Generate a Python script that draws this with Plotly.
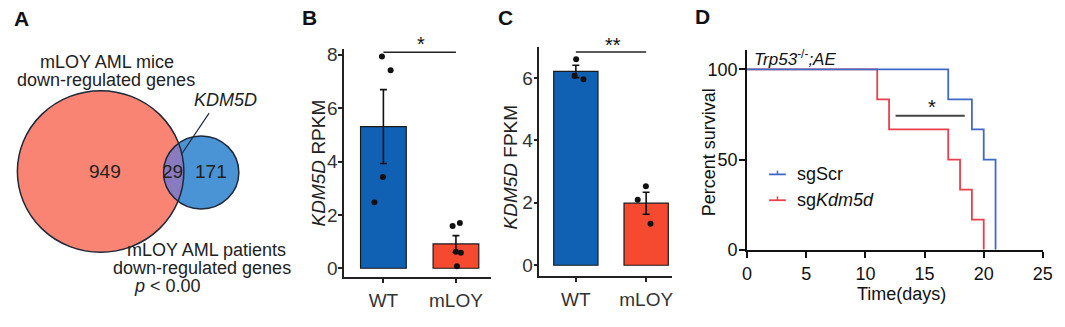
import numpy as np
import plotly.graph_objects as go

W, H = 1065, 327
FONT = "Liberation Sans, Arial, sans-serif"

# ---- Panel A: overlap of down-regulated genes ----
venn_mice_only = 949
venn_shared = 29
venn_patients_only = 171
venn_gene = "KDM5D"

# ---- Panels B/C: KDM5D expression per sample ----
groups = ["WT", "mLOY"]
rpkm_wt = [7.94, 7.42, 3.42, 2.47]
rpkm_mloy = [1.70, 1.58, 0.62, 0.58, 0.08]
fpkm_wt = [6.60, 6.07, 5.96]
fpkm_mloy = [2.10, 2.53, 1.33]

# ---- Panel D: day of death for each mouse ----
death_sgscr = [17, 19, 20, 21, 21, 21]
death_sgkdm5d = [11, 12, 17, 18, 19, 20]
survival_ticks = [0, 5, 10, 15, 20, 25]

# horizontal dot spread within each bar (category units)
jit_rpkm = [[-0.02, 0.10, -0.007, -0.124], [0.054, -0.046, 0.0, 0.068, 0.014]]
jit_fpkm = [[0.004, -0.018, 0.108], [-0.12, -0.004, 0.062]]

BAR_BLUE = "#1061b4"
BAR_RED = "#f54a30"


def px(x):
    return x / W


def py(y):
    return 1 - y / H


fig = go.Figure()
shapes = []
ann = []


def text(x, y, s, size=18, color="#222", xanchor="center", yanchor="middle",
         angle=0, bold=False):
    ann.append(dict(x=px(x), y=py(y), xref="paper", yref="paper",
                    text=f"<b>{s}</b>" if bold else s,
                    showarrow=False, xanchor=xanchor, yanchor=yanchor, textangle=angle,
                    font=dict(family=FONT, size=size, color=color)))


# ================= Panel A (pixel-space axes) =================
k = 2.70  # radius per sqrt(gene count)
r1 = k * np.sqrt(venn_mice_only + venn_shared)
r2 = k * np.sqrt(venn_patients_only + venn_shared)
c1 = np.array([97.0, 175.0])
c2 = np.array([199.0, 176.0])

RED_V, BLUE_V, LENS_V, EDGE = "#f98474", "#4a93d4", "#8a7bbe", "#1d2838"
for c, r, col in [(c1, r1, RED_V), (c2, r2, BLUE_V)]:
    shapes.append(dict(type="circle", xref="x", yref="y", x0=c[0] - r, x1=c[0] + r,
                       y0=c[1] - r, y1=c[1] + r, fillcolor=col, line=dict(width=0),
                       layer="below"))

# lens of the intersection
d_vec = c2 - c1
d = np.hypot(*d_vec)
u = d_vec / d
th0 = np.arctan2(u[1], u[0])
a = (d ** 2 + r1 ** 2 - r2 ** 2) / (2 * d)
h = np.sqrt(r1 ** 2 - a ** 2)
al1 = np.arctan2(h, a)
al2 = np.arctan2(h, d - a)
t1 = np.linspace(th0 - al1, th0 + al1, 60)
t2 = np.linspace(th0 + np.pi - al2, th0 + np.pi + al2, 60)
lx = np.concatenate([c1[0] + r1 * np.cos(t1), c2[0] + r2 * np.cos(t2)])
ly = np.concatenate([c1[1] + r1 * np.sin(t1), c2[1] + r2 * np.sin(t2)])
fig.add_trace(go.Scatter(x=lx, y=ly, fill="toself", fillcolor=LENS_V, mode="lines",
                         line=dict(width=0), hoverinfo="skip", showlegend=False,
                         xaxis="x", yaxis="y"))

for c, r in [(c1, r1), (c2, r2)]:
    shapes.append(dict(type="circle", xref="x", yref="y", x0=c[0] - r, x1=c[0] + r,
                       y0=c[1] - r, y1=c[1] + r, line=dict(color=EDGE, width=1.5),
                       layer="above"))
shapes.append(dict(type="line", xref="x", yref="y", x0=207, y0=114, x1=179, y1=157,
                   line=dict(color=EDGE, width=1.2)))

text(16.5, 15, "A", size=21, color="#111", bold=True)
text(103, 61, "mLOY AML mice")
text(102.5, 79.5, "down-regulated genes")
text(224, 100.5, f"<i>{venn_gene}</i>")
text(101, 175, str(venn_mice_only), size=19, color="#222")
text(170, 175, str(venn_shared), size=19, color="#222")
text(209, 175, str(venn_patients_only), size=19, color="#222")
text(204, 257.5, "mLOY AML patients")
text(200, 276, "down-regulated genes")
text(165, 294.5, "<i>p</i> < 0.00")


# ================= Panels B and C =================
def bar_panel(xa, ya, wt, ml, jit, title, title_xy):
    vals = [wt, ml]
    means = [float(np.mean(v)) for v in vals]
    sems = [float(np.std(v, ddof=1) / np.sqrt(len(v))) for v in vals]
    fig.add_trace(go.Bar(x=[1, 2], y=means, width=0.63,
                         marker=dict(color=[BAR_BLUE, BAR_RED], line=dict(color="#1a1a1a", width=1.2)),
                         error_y=dict(type="data", array=sems, color="#111", thickness=1.6, width=3.5),
                         showlegend=False, hoverinfo="skip", xaxis=xa, yaxis=ya))
    for i, v in enumerate(vals):
        fig.add_trace(go.Scatter(x=[i + 1 + j for j in jit[i]], y=v, mode="markers",
                                 marker=dict(color="#111", size=6), showlegend=False,
                                 hoverinfo="skip", xaxis=xa, yaxis=ya))
    text(*title_xy, title, size=19, color="#222", angle=-90)


bar_panel("x2", "y2", rpkm_wt, rpkm_mloy, jit_rpkm, "<i>KDM5D</i> RPKM", (318, 166))
bar_panel("x3", "y3", fpkm_wt, fpkm_mloy, jit_fpkm, "<i>KDM5D</i> FPKM", (513, 170))

# significance brackets
shapes.append(dict(type="line", xref="x2", yref="y2", x0=1, x1=2, y0=8.1, y1=8.1,
                   line=dict(color="#222", width=1.5)))
text(421.5, 42, "*", size=20, color="#111")
shapes.append(dict(type="line", xref="x3", yref="y3", x0=1, x1=2, y0=6.83, y1=6.83,
                   line=dict(color="#222", width=1.5)))
text(616.5, 43, "**", size=20, color="#111")
text(309, 14, "B", size=21, color="#111", bold=True)
text(508, 14, "C", size=21, color="#111", bold=True)


# ================= Panel D: Kaplan-Meier =================
def km_curve(times):
    at_risk = len(times)
    s = 1.0
    xs, ys = [0], [100.0]
    for t in sorted(set(times)):
        dth = times.count(t)
        s *= (at_risk - dth) / at_risk
        at_risk -= dth
        xs.append(t)
        ys.append(100 * s)
    return xs, ys


KM_BLUE, KM_RED = "#4169c6", "#e8404c"
for times, col in [(death_sgkdm5d, KM_RED), (death_sgscr, KM_BLUE)]:
    xs, ys = km_curve(times)
    fig.add_trace(go.Scatter(x=xs, y=ys, mode="lines", line=dict(color=col, width=1.8, shape="hv"),
                             showlegend=False, hoverinfo="skip", xaxis="x4", yaxis="y4"))

shapes.append(dict(type="line", xref="x4", yref="y4", x0=12.55, x1=18.4, y0=74.3, y1=74.3,
                   line=dict(color="#444", width=2)))
text(940, 108, "*", size=20, color="#111")

# legend
for yy, col, lab in [(178, KM_BLUE, "sgScr"), (205, KM_RED, "sg<i>Kdm5d</i>")]:
    shapes.append(dict(type="line", xref="paper", yref="paper", x0=px(775), x1=px(792),
                       y0=py(yy), y1=py(yy), line=dict(color=col, width=1.8)))
    shapes.append(dict(type="line", xref="paper", yref="paper", x0=px(783.5), x1=px(783.5),
                       y0=py(yy), y1=py(yy - 4), line=dict(color=col, width=1.5)))
    text(801, yy, lab, size=18, color="#111", xanchor="left")

text(758, 56, "<i>Trp53</i><sup>-/-</sup><i>;AE</i>", size=17, color="#111", xanchor="left")
text(714, 155, "Percent survival", size=18, color="#111", angle=-90)
text(909, 303, "Time(days)", size=18, color="#111")
text(707.5, 13, "D", size=21, color="#111", bold=True)

# ================= Layout =================
hidden = dict(visible=False, showgrid=False, zeroline=False)
bc_common = dict(showline=True, linecolor="#222", linewidth=1.5, ticks="outside", ticklen=4,
                 tickwidth=1.5, tickcolor="#222", showgrid=False, zeroline=False,
                 tickfont=dict(family=FONT, size=19, color="#333"))
d_common = dict(showline=True, linecolor="#111", linewidth=2, ticks="outside",
                ticklen=6, tickwidth=1.8, tickcolor="#111", showgrid=False, zeroline=False,
                tickfont=dict(family=FONT, size=18, color="#111"))

fig.update_layout(
    width=W, height=H, margin=dict(l=0, r=0, t=0, b=0),
    paper_bgcolor="white", plot_bgcolor="rgba(0,0,0,0)",
    showlegend=False, shapes=shapes, annotations=ann,
    xaxis=dict(domain=[0, px(270)], range=[0, 270], **hidden),
    yaxis=dict(domain=[0, 1], range=[327, 0], **hidden),
    xaxis2=dict(domain=[px(344), px(492.7)], range=[0.459, 2.48], tickvals=[1, 2],
                ticktext=groups, anchor="y2", ticklabelstandoff=2, **bc_common),
    yaxis2=dict(domain=[py(285), py(46.7)], range=[-0.32, 8.23], tickvals=[0, 2, 4, 6, 8],
                anchor="x2", ticklabelstandoff=-3, **bc_common),
    xaxis3=dict(domain=[px(542), px(676.7)], range=[0.481, 2.37], tickvals=[1, 2],
                ticktext=groups, anchor="y3", ticklabelstandoff=2, **bc_common),
    yaxis3=dict(domain=[py(284), py(45)], range=[-0.34, 6.99], tickvals=[0, 2, 4, 6],
                anchor="x3", ticklabelstandoff=-3, **bc_common),
    xaxis4=dict(domain=[px(752.7), px(1052.7)], range=[0, 25], tickvals=survival_ticks,
                anchor="y4", ticklabelstandoff=1, **d_common),
    yaxis4=dict(domain=[py(256.7), py(48.3)], range=[0, 110.6], tickvals=[0, 50, 100],
                anchor="x4", ticklabelstandoff=-2, **d_common),
)

fig.write_html("out.html")
